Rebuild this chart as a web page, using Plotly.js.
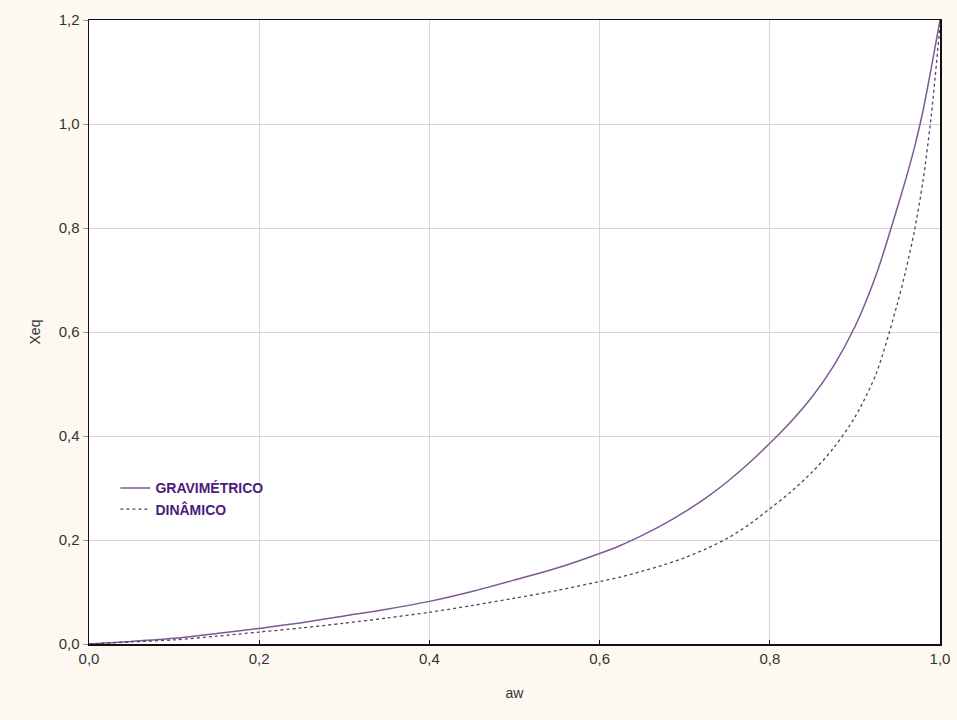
<!DOCTYPE html>
<html>
<head>
<meta charset="utf-8">
<script src="https://cdn.plot.ly/plotly-3.0.1.min.js"></script>
<style>html,body{margin:0;padding:0;background:#fdf9f0;}#chart{width:957px;height:720px;}</style>
</head>
<body>
<div id="chart"></div>
<script>
const aw = [0, 0.05, 0.1, 0.15, 0.2, 0.25, 0.3, 0.35, 0.4, 0.45, 0.5, 0.55, 0.6, 0.625, 0.65, 0.675, 0.7, 0.725, 0.75, 0.775, 0.8, 0.825, 0.85, 0.875, 0.9, 0.925, 0.95, 0.96, 0.97, 0.98, 0.99, 1.0];
const xeqGravimetrico = [0, 0.005, 0.011, 0.020, 0.030, 0.041, 0.054, 0.067, 0.082, 0.101, 0.123, 0.146, 0.174, 0.190, 0.209, 0.230, 0.254, 0.281, 0.312, 0.347, 0.386, 0.428, 0.476, 0.535, 0.610, 0.710, 0.840, 0.895, 0.955, 1.025, 1.110, 1.200];
const xeqDinamico = [0, 0.004, 0.008, 0.015, 0.023, 0.031, 0.040, 0.050, 0.061, 0.074, 0.088, 0.103, 0.120, 0.129, 0.140, 0.152, 0.166, 0.183, 0.203, 0.229, 0.260, 0.293, 0.331, 0.377, 0.436, 0.520, 0.655, 0.720, 0.795, 0.890, 1.020, 1.190];
const seriesNames = ['GRAVIMÉTRICO', 'DINÂMICO'];
const xTicks = [0, 0.2, 0.4, 0.6, 0.8, 1.0];
const yTicks = [0, 0.2, 0.4, 0.6, 0.8, 1.0, 1.2];

const font = 'Liberation Sans, Arial, sans-serif';
const traces = [
  {x: aw, y: xeqGravimetrico, name: seriesNames[0], mode: 'lines', line: {color: '#7d5a93', width: 1.5, shape: 'spline', smoothing: 0.8}},
  {x: aw, y: xeqDinamico, name: seriesNames[1], mode: 'lines', line: {color: '#4e4560', width: 1.3, dash: '3px,3px', shape: 'spline', smoothing: 0.8}}
];
const layout = {
  width: 957, height: 720,
  paper_bgcolor: '#fdf9f0', plot_bgcolor: '#ffffff',
  margin: {l: 89, r: 17, t: 20, b: 76},
  separators: ',.',
  font: {family: font, size: 15, color: '#333333'},
  showlegend: true,
  legend: {x: 0.031, y: 0.275, xanchor: 'left', yanchor: 'top', bgcolor: 'rgba(0,0,0,0)',
    font: {family: font, size: 14, color: '#4a1d78', weight: 'bold'}, tracegroupgap: 0, itemwidth: 30},
  xaxis: {range: [0, 1], tickvals: xTicks, tickformat: '.1f', showgrid: true, gridcolor: '#d6d6d6', gridwidth: 1,
    showline: true, linecolor: '#111111', linewidth: 1.5, mirror: true, ticks: 'inside', ticklen: 4, tickcolor: '#111111',
    zeroline: false, title: {text: 'aw', font: {size: 14, color: '#333333'}, standoff: 22},
    tickfont: {size: 15, color: '#333333'}},
  yaxis: {range: [0, 1.2], tickvals: yTicks, tickformat: '.1f', showgrid: true, gridcolor: '#d6d6d6', gridwidth: 1,
    showline: true, linecolor: '#111111', linewidth: 1.5, mirror: true, ticks: 'outside', ticklen: 5, tickcolor: '#999999',
    zeroline: false, title: {text: 'Xeq', font: {size: 14, color: '#333333'}, standoff: 14},
    tickfont: {size: 15, color: '#333333'}},
  yaxis2: {range: [0, 1.2], tickvals: yTicks, overlaying: 'y', side: 'right', showticklabels: false, showgrid: false,
    ticks: 'inside', ticklen: 5, tickcolor: '#111111', zeroline: false, showline: false}
};
Plotly.newPlot('chart', traces, layout, {displayModeBar: false, staticPlot: true});
</script>
</body>
</html>
